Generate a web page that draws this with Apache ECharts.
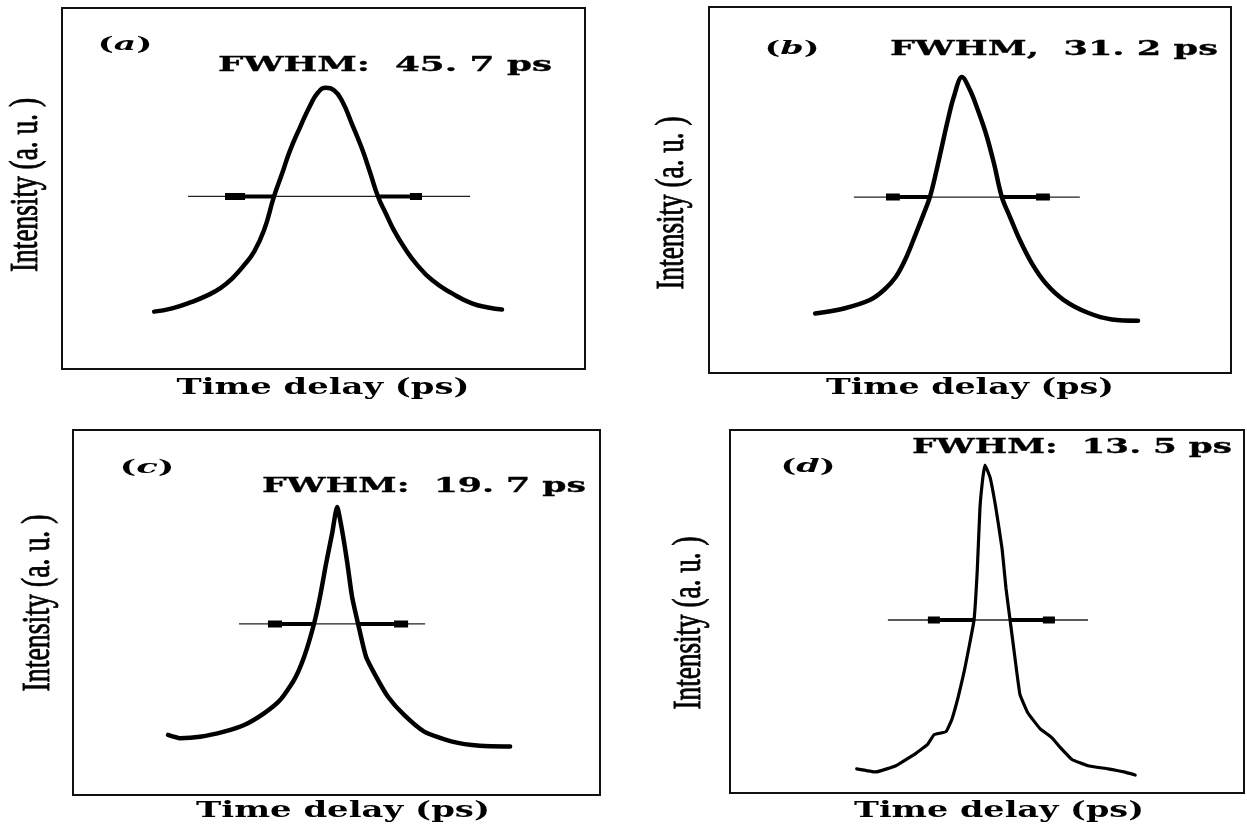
<!DOCTYPE html>
<html>
<head>
<meta charset="utf-8">
<script src="https://cdn.jsdelivr.net/npm/echarts@6/dist/echarts.min.js"></script>
<style>
html,body{margin:0;padding:0;background:#fff;}
#chart{width:1247px;height:828px;}
</style>
</head>
<body>
<div id="chart"></div>
<script>
// ---------------- DATA (time delay relative to peak, ps ; intensity, a.u.) ----------------
// (a) FWHM 45.7 ps
const timeA = [-75.4, -67.5, -58.8, -51.8, -46.5, -41.2, -36.0, -31.6, -27.2, -22.8, -19.3, -15.8, -11.4, -7.0, -3.5, 0, 3.5, 7.0, 11.4, 15.8, 19.3, 22.8, 26.3, 29.8, 34.2, 39.5, 46.5, 55.3, 64.0, 71.1, 77.2];
const intA  = [-0.03, -0.015, 0.015, 0.046, 0.077, 0.122, 0.183, 0.245, 0.344, 0.50, 0.604, 0.711, 0.818, 0.917, 0.978, 1.00, 0.989, 0.94, 0.833, 0.719, 0.611, 0.50, 0.42, 0.344, 0.267, 0.191, 0.115, 0.054, 0.008, -0.011, -0.02];
// (b) FWHM 31.2 ps
const timeB = [-63.6, -51.1, -39.9, -33.8, -28.6, -24.3, -19.9, -16.5, -13.9, -11.3, -8.7, -6.1, -3.5, 0, 3.5, 6.9, 10.4, 13.9, 17.3, 20.8, 25.1, 30.3, 36.4, 44.2, 54.6, 65.0, 76.3];
const intB  = [0.015, 0.036, 0.071, 0.113, 0.168, 0.245, 0.349, 0.432, 0.50, 0.599, 0.71, 0.821, 0.918, 1.00, 0.946, 0.863, 0.765, 0.64, 0.50, 0.418, 0.321, 0.224, 0.14, 0.071, 0.018, -0.01, -0.015];
// (c) FWHM 19.7 ps
const timeC = [-72.4, -67.2, -58.7, -48.4, -39.8, -31.3, -24.4, -18.4, -14.1, -9.9, -7.3, -4.7, -2.1, 0, 2.1, 4.4, 6.4, 9.0, 12.4, 16.7, 21.8, 28.7, 37.3, 49.3, 61.2, 74.1];
const intC  = [0.026, 0.012, 0.018, 0.04, 0.068, 0.118, 0.175, 0.261, 0.36, 0.50, 0.617, 0.759, 0.888, 1.00, 0.902, 0.759, 0.617, 0.50, 0.36, 0.275, 0.189, 0.111, 0.04, -0.003, -0.021, -0.024];
// (d) FWHM 13.5 ps
const timeD = [-48.1, -40.9, -33.4, -25.9, -21.4, -19.1, -14.6, -12.4, -10.1, -7.9, -5.6, -4.1, -2.9, -1.9, -0.8, 0, 1.9, 4.1, 6.4, 7.9, 9.4, 10.9, 13.1, 16.1, 20.6, 25.1, 28.1, 32.6, 38.6, 46.1, 52.1, 56.3];
const intD  = [0.02, 0.01, 0.03, 0.07, 0.10, 0.13, 0.14, 0.18, 0.25, 0.33, 0.43, 0.50, 0.66, 0.86, 0.96, 1.00, 0.96, 0.86, 0.73, 0.60, 0.50, 0.40, 0.26, 0.20, 0.15, 0.12, 0.09, 0.05, 0.03, 0.02, 0.01, 0.00];

// FWHM marker positions (ps): thin start, block start, block end, left crossing, right crossing, block start, block end, thin end
const fwhmA = [-60.5, -44.3, -35.5, -22.8, 22.8, 36.8, 42.1, 63.2];
const fwhmB = [-46.8, -32.9, -26.9, -13.9, 17.3, 32.1, 38.1, 51.1];
const fwhmC = [-42.0, -29.6, -23.6, -10.2, 9.0, 24.4, 30.4, 37.7];
const fwhmD = [-36.4, -21.4, -16.9, -4.5, 9.4, 21.7, 26.2, 38.6];
const halfLevel = 0.5;

// Texts
const panelLetters = ['a', 'b', 'c', 'd'];
const fwhmTexts = ['FWHM:  45. 7 ps', 'FWHM,  31. 2 ps', 'FWHM:  19. 7 ps', 'FWHM:  13. 5 ps'];
const xTitle = 'Time delay (ps)';
const yTitle = 'Intensity (a. u. )';

// ---------------- LAYOUT ----------------
const panels = [
  {t: timeA, v: intA, f: fwhmA, grid: {left: 62, top: 8, width: 523, height: 361}, x: [-115.8, 113.6], y: [-0.294, 1.367], lw: 4.5, sm: 0.5,
   letter: [125, 45], fwhm: [385, 66, 334], xt: [323, 388, 293], yt: [26, 185, 174]},
  {t: timeB, v: intB, f: fwhmB, grid: {left: 709, top: 7, width: 522, height: 366}, x: [-109.6, 116.6], y: [-0.233, 1.292], lw: 4.5, sm: 0.35,
   letter: [792, 49], fwhm: [1054, 50, 328], xt: [970, 388, 288], yt: [672, 203, 173]},
  {t: timeC, v: intC, f: fwhmC, grid: {left: 73, top: 430, width: 527, height: 365}, x: [-113.1, 112.6], y: [-0.231, 1.329], lw: 4.5, sm: 0.2,
   letter: [147, 468], fwhm: [424, 487, 324], xt: [343, 811, 294], yt: [38, 603, 177]},
  {t: timeD, v: intD, f: fwhmD, grid: {left: 730, top: 430, width: 514, height: 363}, x: [-95.6, 97.1], y: [-0.058, 1.113], lw: 3.2, sm: 0.1,
   letter: [808, 467], fwhm: [1072, 448, 320], xt: [999, 811, 290], yt: [689, 623, 173]}
];

const mctx = document.createElement('canvas').getContext('2d');
function measure(str, font) { mctx.font = font; return mctx.measureText(str).width; }
function fitText(str, cx, cy, w, font, rot, sy, stroke) {
  const sx = w / measure(str, font);
  const style = {text: str, font: font, fill: '#000', textAlign: 'center', textVerticalAlign: 'middle', align: 'center', verticalAlign: 'middle'};
  if (stroke) { style.stroke = '#000'; style.lineWidth = stroke; }
  return {type: 'text', x: cx, y: cy, rotation: rot || 0, scaleX: sx, scaleY: sy || 1, silent: true, style: style};
}

const grids = [], xAxes = [], yAxes = [], series = [], graphics = [];
const fwhmFont = 'bold 20px "DejaVu Serif"';
const xtFont = 'bold 22px "DejaVu Serif"';
const ytFont = '27px "Liberation Serif"';

panels.forEach((p, i) => {
  grids.push(Object.assign({show: true, borderColor: '#111', borderWidth: 2, backgroundColor: 'transparent', containLabel: false}, p.grid));
  xAxes.push({type: 'value', gridIndex: i, min: p.x[0], max: p.x[1], show: false});
  yAxes.push({type: 'value', gridIndex: i, min: p.y[0], max: p.y[1], show: false});
  const pts = p.t.map((t, k) => [t, p.v[k]]);
  const seg = (a, b) => [[a, halfLevel], [b, halfLevel]];
  const common = {type: 'line', xAxisIndex: i, yAxisIndex: i, symbol: 'none', silent: true, animation: false};
  series.push(Object.assign({}, common, {data: seg(p.f[0], p.f[7]), lineStyle: {color: '#222', width: 1.3}}));
  series.push(Object.assign({}, common, {data: seg(p.f[1], p.f[3]), lineStyle: {color: '#000', width: 4}}));
  series.push(Object.assign({}, common, {data: seg(p.f[4], p.f[6]), lineStyle: {color: '#000', width: 4}}));
  series.push(Object.assign({}, common, {data: seg(p.f[1], p.f[2]), lineStyle: {color: '#000', width: 7}}));
  series.push(Object.assign({}, common, {data: seg(p.f[5], p.f[6]), lineStyle: {color: '#000', width: 7}}));
  series.push(Object.assign({}, common, {data: pts, smooth: p.sm, lineStyle: {color: '#000', width: p.lw, cap: 'round', join: 'round'}}));

  // panel letter, e.g. (a) with italic letter
  const lf = 'bold 18px "DejaVu Serif"';
  const lsx = 55 / measure('(' + panelLetters[i] + ')', lf);
  graphics.push({
    type: 'text', x: p.letter[0], y: p.letter[1], scaleX: lsx, silent: true,
    style: {
      text: '(' + '{i|' + panelLetters[i] + '})', fill: '#000',
      fontFamily: 'DejaVu Serif', fontWeight: 'bold', fontSize: 18,
      textAlign: 'center', textVerticalAlign: 'middle', align: 'center', verticalAlign: 'middle',
      rich: {i: {fontFamily: 'DejaVu Serif', fontWeight: 'bold', fontStyle: 'italic', fontSize: 18, fill: '#000'}}
    }
  });
  graphics.push(fitText(fwhmTexts[i], p.fwhm[0], p.fwhm[1], p.fwhm[2], fwhmFont, 0, 1, 0.3));
  graphics.push(fitText(xTitle, p.xt[0], p.xt[1], p.xt[2], xtFont));
  graphics.push(fitText(yTitle, p.yt[0], p.yt[1], p.yt[2], ytFont, Math.PI / 2, 1.5, 0.6));
});

const chart = echarts.init(document.getElementById('chart'), null, {renderer: 'canvas'});
chart.setOption({
  animation: false,
  backgroundColor: '#fff',
  grid: grids,
  xAxis: xAxes,
  yAxis: yAxes,
  series: series,
  graphic: {elements: graphics}
});
</script>
</body>
</html>
